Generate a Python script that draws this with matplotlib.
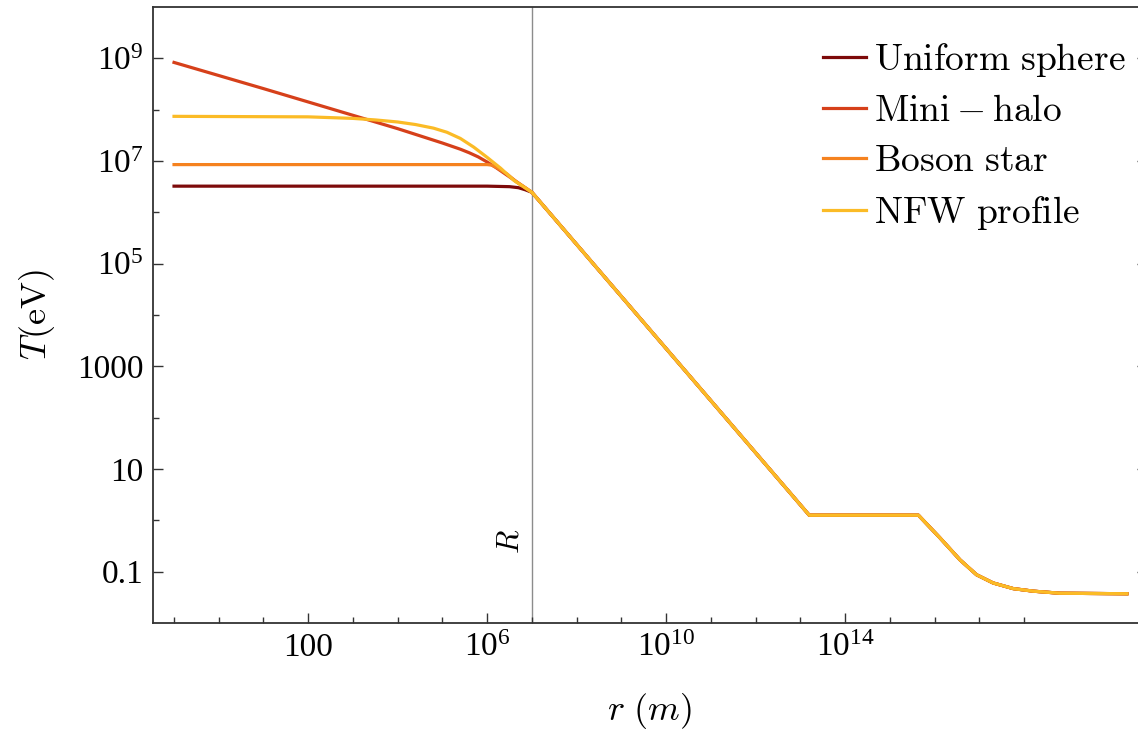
import numpy as np
import matplotlib
matplotlib.use("Agg")
import matplotlib.pyplot as plt
from matplotlib.font_manager import FontProperties
from matplotlib.ticker import FixedLocator, FixedFormatter, NullFormatter

# values, stored as log10(r / m) and log10(T / eV)
uniform_logr = [-1.0, 6.0, 6.5, 6.7, 6.85, 7.0]
uniform_logT = [6.51, 6.51, 6.50, 6.48, 6.44, 6.39]

minihalo_logr = [-1.0, 1.0, 3.0, 4.0, 4.5, 5.0, 5.2, 5.4, 5.6, 5.8, 6.0, 6.2, 6.4, 6.6, 7.0]
minihalo_logT = [8.92, 8.41, 7.89, 7.63, 7.49, 7.35, 7.29, 7.23, 7.16, 7.08, 6.98, 6.87, 6.75, 6.63, 6.39]

boson_logr = [-1.0, 6.0, 6.1, 6.22, 6.44, 6.66, 6.85, 7.0]
boson_logT = [6.93, 6.93, 6.92, 6.87, 6.75, 6.59, 6.48, 6.39]

nfw_logr = [-1.0, 2.0, 3.0, 3.5, 4.0, 4.4, 4.8, 5.1, 5.4, 5.7, 6.0, 6.3, 6.6, 7.0]
nfw_logT = [7.87, 7.86, 7.83, 7.80, 7.76, 7.71, 7.64, 7.56, 7.44, 7.27, 7.07, 6.86, 6.62, 6.39]

# common part outside R (all four curves overlap here)
tail_logr = [7.0, 13.2, 15.64, 16.12, 16.57, 16.94, 17.31, 17.76, 18.21, 18.8, 20.3]
tail_logT = [6.39, 0.10, 0.10, -0.34, -0.77, -1.06, -1.22, -1.33, -1.38, -1.42, -1.43]

labels = [r"$\mathrm{Uniform\ sphere}$", r"$\mathrm{Mini-halo}$",
          r"$\mathrm{Boson\ star}$", r"$\mathrm{NFW\ profile}$"]
colors = ["#7d0a0a", "#d6401a", "#f5821f", "#fbbb26"]

R_log = 7.0

xticks_major = [1e2, 1e6, 1e10, 1e14]
xtick_labels = ["100", r"$\mathdefault{10^{6}}$", r"$\mathdefault{10^{10}}$", r"$\mathdefault{10^{14}}$"]
xticks_minor = [10.0 ** k for k in range(-1, 19) if k not in (2, 6, 10, 14)]
yticks_major = [1e-1, 1e1, 1e3, 1e5, 1e7, 1e9]
ytick_labels = ["0.1", "10", "1000", r"$\mathdefault{10^{5}}$", r"$\mathdefault{10^{7}}$", r"$\mathdefault{10^{9}}$"]
yticks_minor = [1e0, 1e2, 1e4, 1e6, 1e8]

plt.rcParams["font.family"] = ["Liberation Serif", "DejaVu Serif"]
plt.rcParams["mathtext.fontset"] = "custom"
plt.rcParams["mathtext.rm"] = "Liberation Serif"
plt.rcParams["mathtext.it"] = "Liberation Serif:italic"

fig = plt.figure(figsize=(11.38, 7.35), dpi=100)
ax = fig.add_axes([153 / 1138, 112 / 735, 994 / 1138, 616 / 735])

curves = [(uniform_logr, uniform_logT), (minihalo_logr, minihalo_logT),
          (boson_logr, boson_logT), (nfw_logr, nfw_logT)]
for (lr, lt), lab, c in zip(curves, labels, colors):
    r = 10.0 ** np.concatenate([lr, tail_logr[1:]])
    T = 10.0 ** np.concatenate([lt, tail_logT[1:]])
    ax.plot(r, T, color=c, lw=2.3, label=lab, solid_joinstyle="round")

ax.set_xscale("log")
ax.set_yscale("log")
ax.set_xlim(10 ** -1.47, 10 ** 20.75)
ax.set_ylim(1e-2, 1e10)

# vertical line at R
ax.axvline(10 ** R_log, color="#8c8c8c", lw=1.0, zorder=0)
ax.text(10 ** 6.54, 10 ** -0.41, r"$R$", rotation=90, ha="center", va="center",
        fontsize=22, math_fontfamily="cm")

ax.xaxis.set_major_locator(FixedLocator(xticks_major))
ax.xaxis.set_major_formatter(FixedFormatter(xtick_labels))
ax.xaxis.set_minor_locator(FixedLocator(xticks_minor))
ax.xaxis.set_minor_formatter(NullFormatter())
ax.yaxis.set_major_locator(FixedLocator(yticks_major))
ax.yaxis.set_major_formatter(FixedFormatter(ytick_labels))
ax.yaxis.set_minor_locator(FixedLocator(yticks_minor))
ax.yaxis.set_minor_formatter(NullFormatter())

ax.tick_params(which="both", direction="in", color="#333333", width=1.0,
               labelsize=24, top=False, right=True)
ax.tick_params(which="major", length=7.5, pad=7)
ax.tick_params(which="minor", length=4.3)
for s in ax.spines.values():
    s.set_color("#333333")
    s.set_linewidth(1.3)

ax.set_xlabel(r"$r\ (m)$", fontsize=26, math_fontfamily="cm", labelpad=20)
ax.set_ylabel(r"$T(\mathrm{eV})$", fontsize=26, math_fontfamily="cm", labelpad=14)

leg = ax.legend(loc="upper left", bbox_to_anchor=(823 / 1138, 1 - 41 / 735),
                bbox_transform=fig.transFigure, frameon=False,
                prop=FontProperties(size=27, math_fontfamily="cm"),
                handlelength=1.15, handletextpad=0.2, labelspacing=0.41,
                borderpad=0, borderaxespad=0)

fig.savefig("out.png", dpi=100)
